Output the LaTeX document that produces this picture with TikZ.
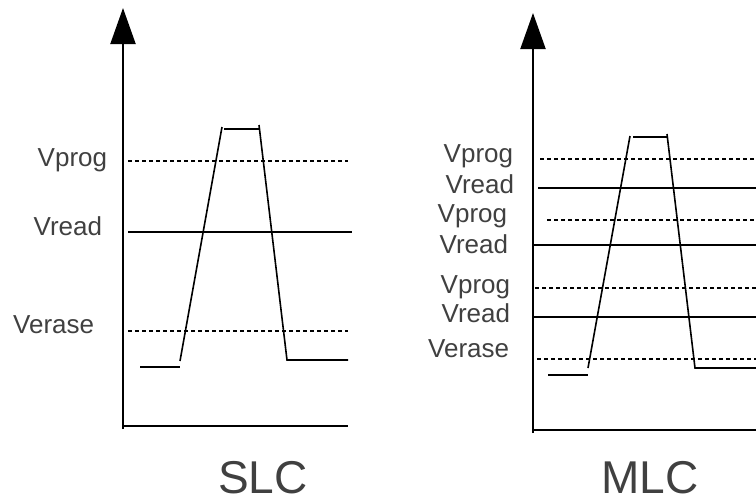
\documentclass[tikz,border=0pt]{standalone}
\usepackage{fontspec}
\setmainfont{Liberation Sans}
\usetikzlibrary{arrows.meta}
\definecolor{txt}{HTML}{404040}
\begin{document}
\begin{tikzpicture}[x=1pt,y=-1pt,line width=1.8pt,
  lbl/.style={anchor=base east,inner sep=0pt,text=txt,font=\fontsize{26}{30}\selectfont},
  ttl/.style={anchor=base,inner sep=0pt,text=txt,font=\fontsize{46}{52}\selectfont},
  axis/.style={-{Triangle[width=25pt,length=36pt]},line width=2pt},
  dsh/.style={dash pattern=on 4pt off 3pt,line width=1.6pt},
  sol/.style={line width=1.6pt}]
\useasboundingbox (0,0) rectangle (756,501);
% ---------- SLC ----------
\coordinate (s0) at (123,429);
\coordinate (stip) at (123,8);
\draw[axis] (s0) -- (stip);
\coordinate (sx) at (348,426);
\draw[line width=2pt] (123,426) -- (sx);
\draw[dsh] (128,161) -- (348,161);
\draw[sol] (128,232) -- (352,232);
\draw[dsh] (128,331) -- (348,331);
\draw[sol] (140,367) -- (180,367);
\draw[sol] (180,361) -- (222,127);
\draw[sol] (224,129) -- (259,129);
\draw[sol] (259,125) -- (287,360) -- (348,360);
\node[lbl] (sp) at (108,166) {Vprog};
\node[lbl] (sr) at (103,235) {Vread};
\node[lbl] (se) at (95,333) {Verase};
\node[ttl] (slc) at (263,493) {SLC};
% ---------- MLC ----------
\coordinate (m0) at (533,433);
\coordinate (mtip) at (533,13);
\draw[axis] (m0) -- (mtip);
\draw[line width=2pt] (533,430) -- (756,430);
\draw[dsh] (540,159) -- (756,159);
\draw[sol] (538,188) -- (756,188);
\draw[dsh] (547,220) -- (756,220);
\draw[sol] (533,245) -- (756,245);
\draw[dsh] (535,288) -- (756,288);
\draw[sol] (533,317) -- (756,317);
\draw[dsh] (537,359) -- (756,359);
\draw[sol] (548,375) -- (588,375);
\draw[sol] (588,368) -- (630,136);
\draw[sol] (633,137) -- (667,137);
\draw[sol] (667,134) -- (695,368) -- (756,368);
\node[lbl] (mp1) at (514,162) {Vprog};
\node[lbl] (mr1) at (515,193) {Vread};
\node[lbl] (mp2) at (508,222) {Vprog};
\node[lbl] (mr2) at (509,253) {Vread};
\node[lbl] (mp3) at (511,293) {Vprog};
\node[lbl] (mr3) at (511,322) {Vread};
\node[lbl] (me) at (510,357) {Verase};
\node[ttl] (mlc) at (650,493) {MLC};
\end{tikzpicture}
\end{document}
